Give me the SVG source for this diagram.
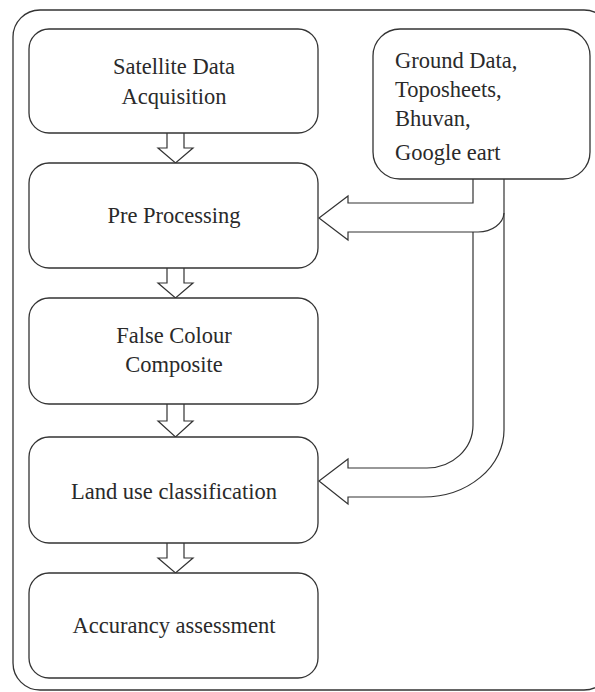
<svg xmlns="http://www.w3.org/2000/svg" width="595" height="692" viewBox="0 0 595 692">
<style>
.frame{fill:none;stroke:#333;stroke-width:1.3}
.box{fill:#fff;stroke:#333;stroke-width:1.3}
.arr{fill:#fff;stroke:#333;stroke-width:1.2;stroke-linejoin:miter}
.con{fill:none;stroke:#333;stroke-width:1.2}
.t{font-family:'Liberation Serif','Times New Roman',serif;font-size:22.5px;fill:#2a2a2a}
.c{text-anchor:middle}
</style>
<rect width="595" height="692" fill="#fff"/>
<rect class="frame" x="13" y="10" width="598" height="680" rx="27" ry="27"/>

<g id="connectors">
  <path class="arr" d="M167,133 V148 H158 L175.5,163 L193,148 H184 V133"/>
  <path class="arr" d="M167,268 V283 H158 L175.5,298 L193,283 H184 V268"/>
  <path class="arr" d="M167,404 V421 H158 L175.5,437 L193,421 H184 V404"/>
  <path class="arr" d="M167,543 V558 H158 L175.5,573 L193,558 H184 V543"/>
  <path class="arr" d="M473,177 H504 V213 A26 20 0 0 1 478,232 H348 V240 L319,218 L348,196 V203 H473 Z"/>
  <path class="con" d="M504,213 V430 A81 67 0 0 1 423,497 H348 V504 L319,481 L348,459 V468 H427 A46 43 0 0 0 473,425 V232"/>
</g>

<g class="t" font-family="Liberation Serif, serif">
<g id="n1">
  <rect class="box" x="29" y="29" width="289" height="104" rx="20"/>
  <text class="c" x="174" y="74">Satellite Data</text>
  <text class="c" x="174" y="104">Acquisition</text>
</g>
<g id="n2">
  <rect class="box" x="29" y="163" width="289" height="105" rx="20"/>
  <text class="c" x="174" y="223">Pre Processing</text>
</g>
<g id="n3">
  <rect class="box" x="29" y="298" width="289" height="106" rx="20"/>
  <text class="c" x="174" y="343">False Colour</text>
  <text class="c" x="174" y="372">Composite</text>
</g>
<g id="n4">
  <rect class="box" x="29" y="437" width="289" height="106" rx="20"/>
  <text class="c" x="174" y="499">Land use classification</text>
</g>
<g id="n5">
  <rect class="box" x="29" y="573" width="289" height="105" rx="20"/>
  <text class="c" x="174" y="633">Accurancy assessment</text>
</g>
<g id="n6">
  <rect class="box" x="373" y="29" width="217" height="150" rx="27"/>
  <text x="395" y="68">Ground Data,</text>
  <text x="395" y="97">Toposheets,</text>
  <text x="395" y="126">Bhuvan,</text>
  <text x="395" y="160">Google eart</text>
</g>
</g>
</svg>
